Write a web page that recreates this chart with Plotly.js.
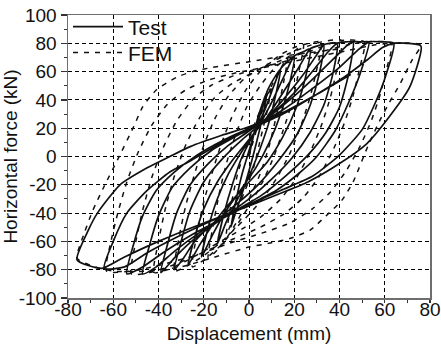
<!DOCTYPE html>
<html>
<head>
<meta charset="utf-8">
<script src="https://cdn.plot.ly/plotly-3.0.1.min.js"></script>
<style>
html,body{margin:0;padding:0;background:#fff;}
#chart{width:441px;height:346px;}
</style>
</head>
<body>
<div id="chart"></div>
<script>
// Test (solid) hysteresis path, cycle by cycle: displacement (mm)
var testDisp = [
  0, 4,
  8, 6, 3, 0, -3, -6, -8, -6, -3, 0, 3, 6, 8,
  11, 14, 12, 9, 5, 0, -5, -10, -14, -11, -7, -3, 2, 7, 11, 14,
  17, 20, 18, 14, 9, 3, -3, -10, -16, -21, -18, -14, -9, -3, 3, 9, 15, 20,
  24, 27, 25, 21, 15, 8, 0, -8, -16, -22, -27, -24, -20, -14, -7, 0, 8, 15, 22, 27,
  30, 33, 31, 27, 21, 13, 4, -5, -15, -24, -29, -33, -30, -26, -20, -12, -3, 6, 15, 24, 30, 33,
  36, 39, 37, 33, 27, 19, 10, 0, -12, -24, -32, -37, -39, -36, -32, -26, -18, -9, 0, 10, 20, 29, 35, 39,
  43, 46, 44, 40, 34, 26, 16, 5, -8, -22, -33, -41, -47, -44, -40, -34, -26, -16, -5, 7, 18, 29, 38, 43, 46,
  50, 53, 49, 44, 38, 30, 22, 12, 0, -12, -26, -38, -47, -54, -51, -47, -41, -33, -23, -12, 0, 14, 28, 40, 48, 53,
  59, 64, 60, 55, 50, 40, 28, 14, 0, -16, -32, -45, -55, -64, -60, -54, -45, -35, -27, -14, 0, 15, 30, 42, 52, 59, 64,
  70, 76, 71, 61, 52, 40, 26, 14, 0, -20, -40, -55, -65, -76, -71, -67, -57, -45, -35, -26, -12, 0, 15, 30, 45
];
// Test horizontal force (kN)
var testForce = [
  0, 28,
  46, 28, 8, -10, -26, -40, -50, -33, -12, 4, 20, 35, 46,
  55, 62, 45, 25, 6, -14, -30, -46, -62, -40, -18, 0, 16, 33, 50, 62,
  67, 71, 52, 30, 10, -8, -22, -38, -55, -71, -50, -30, -12, 4, 18, 35, 55, 71,
  74, 76, 56, 35, 14, -4, -18, -32, -48, -63, -77, -57, -37, -18, -2, 12, 28, 45, 63, 76,
  78, 79, 58, 36, 15, -3, -20, -33, -46, -60, -72, -80, -60, -38, -18, -2, 12, 24, 40, 58, 72, 79,
  80, 80, 58, 36, 17, -1, -16, -30, -44, -58, -70, -79, -82, -62, -40, -20, -5, 8, 18, 30, 45, 62, 74, 80,
  81, 81, 58, 35, 17, 1, -14, -28, -40, -54, -67, -78, -83, -63, -42, -22, -8, 5, 15, 26, 40, 56, 70, 78, 81,
  81, 81, 58, 38, 18, 0, -12, -24, -34, -44, -56, -68, -78, -83, -62, -42, -24, -11, 1, 11, 20, 32, 48, 63, 75, 81,
  81, 80, 55, 35, 19, 1, -14, -24, -34, -45, -57, -68, -78, -79, -60, -40, -24, -11, -4, 8, 19, 30, 44, 56, 68, 77, 80,
  80, 78, 49, 26, 9, -5, -18, -26, -35, -47, -60, -71, -79, -73, -52, -40, -20, -8, 0, 7, 15, 21, 31, 44, 58
];
// FEM (dashed) hysteresis path: displacement (mm)
var femDisp = [
  0, 5,
  10, 8, 5, 2, -2, -6, -10, -8, -5, -1, 3, 7, 10,
  17, 15, 12, 9, 5, 0, -5, -10, -14, -18, -16, -13, -10, -6, -1, 5, 11, 17,
  24, 22, 19, 15, 11, 6, 0, -6, -12, -19, -25, -23, -20, -16, -12, -7, -1, 6, 14, 20, 24,
  32, 30, 27, 23, 18, 12, 5, -3, -12, -20, -27, -33, -31, -28, -24, -20, -15, -9, -2, 8, 18, 26, 32,
  41, 39, 36, 32, 27, 21, 14, 5, -6, -18, -28, -36, -42, -40, -37, -33, -28, -22, -15, -7, 4, 16, 28, 36, 41,
  51, 49, 46, 42, 37, 31, 24, 15, 5, -8, -22, -34, -44, -52, -50, -47, -43, -38, -32, -25, -17, -7, 6, 20, 34, 44, 51,
  63, 61, 58, 54, 49, 43, 36, 28, 18, 6, -8, -24, -40, -52, -63, -61, -58, -54, -49, -43, -36, -28, -18, -6, 10, 28, 44, 56, 63,
  76, 72, 67, 62, 58, 53, 46, 41, 34, 27, 18, 10, 0, -15, -30, -45, -60, -70, -76, -73, -69, -64, -58, -51, -47, -41, -32, -25, -16, 0, 20, 40
];
// FEM horizontal force (kN)
var femForce = [
  0, 28,
  50, 32, 12, -8, -25, -40, -55, -35, -12, 8, 25, 40, 50,
  70, 50, 28, 8, -12, -30, -45, -58, -66, -72, -50, -25, -5, 15, 35, 50, 62, 70,
  79, 60, 38, 18, 0, -18, -35, -50, -62, -72, -78, -55, -32, -10, 10, 30, 48, 62, 72, 77, 79,
  81, 62, 42, 22, 2, -16, -32, -46, -60, -70, -77, -81, -58, -35, -12, 8, 27, 43, 55, 65, 73, 78, 81,
  82, 63, 42, 22, 3, -15, -30, -43, -54, -65, -74, -80, -82, -60, -37, -14, 8, 27, 42, 52, 61, 69, 75, 80, 82,
  81, 63, 43, 23, 4, -14, -29, -41, -50, -59, -69, -77, -82, -83, -60, -38, -15, 6, 25, 40, 50, 57, 63, 69, 75, 79, 81,
  80, 63, 44, 25, 7, -10, -25, -37, -47, -54, -61, -70, -77, -81, -81, -60, -40, -18, 3, 22, 37, 47, 54, 59, 64, 70, 75, 79, 80,
  79, 68, 52, 38, 26, 9, -18, -31, -42, -52, -58, -61, -64, -71, -78, -81, -81, -77, -72, -55, -38, -21, -2, 21, 35, 47, 56, 60, 63, 67, 72, 76
];
var xTicks = [-80, -60, -40, -20, 0, 20, 40, 60, 80];
var yTicks = [-100, -80, -60, -40, -20, 0, 20, 40, 60, 80, 100];
var seriesNames = ['Test', 'FEM'];

var FONT = 'Liberation Sans, Arial, sans-serif';

var traces = [
  {
    x: testDisp, y: testForce, name: seriesNames[0], type: 'scatter', mode: 'lines',
    line: {color: '#111', width: 1.7, shape: 'spline', smoothing: 0.6},
    hoverinfo: 'skip', legend: 'legend'
  },
  {
    x: femDisp, y: femForce, name: seriesNames[1], type: 'scatter', mode: 'lines',
    line: {color: '#111', width: 1.5, dash: '5px,6px', shape: 'spline', smoothing: 0.6},
    hoverinfo: 'skip', legend: 'legend2'
  }
];

var axisCommon = {
  showline: true, linecolor: '#6e6e6e', linewidth: 1.5, mirror: true,
  showgrid: true, gridcolor: '#000', gridwidth: 1, griddash: '4px,3px',
  zeroline: false,
  tickwidth: 1.2, tickcolor: '#333',
  tickfont: {family: FONT, size: 19, color: '#111'}
};

var legendCommon = {
  xanchor: 'left', yanchor: 'middle',
  bgcolor: 'rgba(0,0,0,0)', borderwidth: 0,
  font: {family: FONT, size: 21, color: '#111'},
  itemwidth: 50
};

var layout = {
  width: 441, height: 346,
  margin: {l: 68, r: 11, t: 15, b: 48, pad: 0, autoexpand: false},
  paper_bgcolor: '#fff', plot_bgcolor: '#fff',
  showlegend: true,
  legend: Object.assign({}, legendCommon, {x: 0.0, y: 0.958}),
  legend2: Object.assign({}, legendCommon, {x: 0.0, y: 0.866}),
  xaxis: Object.assign({}, axisCommon, {
    range: [-80, 80], tickvals: xTicks, ticktext: xTicks.map(String),
    ticks: 'outside', ticklen: 3, ticklabelstandoff: -9,
    minor: {ticks: 'outside', ticklen: 3, tickwidth: 1, tickcolor: '#333', dtick: 10, showgrid: false},
    title: {text: 'Displacement (mm)', font: {family: FONT, size: 19, color: '#111'}, standoff: 7}
  }),
  yaxis: Object.assign({}, axisCommon, {
    range: [-100, 100], tickvals: yTicks, ticktext: yTicks.map(String),
    ticks: 'outside', ticklen: 6,
    minor: {ticks: 'outside', ticklen: 3, tickwidth: 1, tickcolor: '#333', dtick: 10, showgrid: false},
    title: {text: 'Horizontal force (kN)', font: {family: FONT, size: 19, color: '#111'}, standoff: 4}
  })
};

Plotly.newPlot('chart', traces, layout, {staticPlot: true, displayModeBar: false});
</script>
</body>
</html>
